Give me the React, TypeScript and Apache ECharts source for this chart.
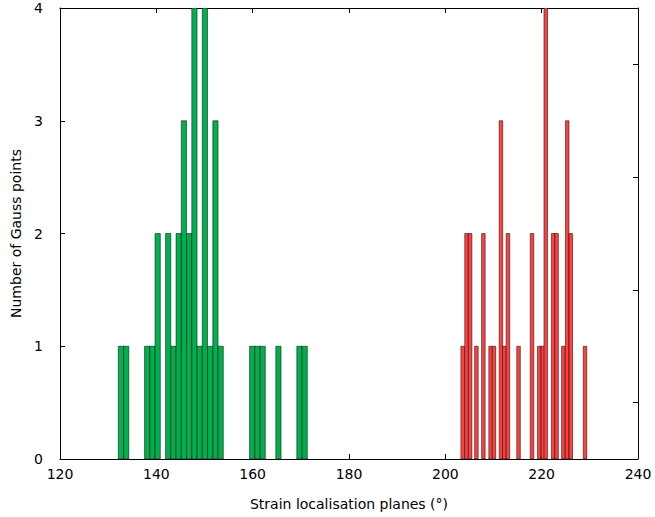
import React, { useEffect, useRef } from "react";
import * as echarts from "echarts";

// Green histogram (bar centre in degrees, count)
const greenCentres = [132.65, 133.74, 138.1, 139.19, 140.28, 142.46, 143.55, 144.64, 145.73, 146.82, 147.91, 149.0, 150.09, 151.18, 152.27, 153.36, 159.9, 160.99, 162.08, 165.35, 169.71, 170.8];
const greenCounts = [1, 1, 1, 1, 2, 2, 1, 2, 3, 2, 4, 1, 4, 1, 3, 1, 1, 1, 1, 1, 1, 1];

// Red histogram (bar centre in degrees, count)
const redCentres = [203.6, 204.4, 205.15, 206.45, 207.9, 209.4, 210.1, 211.55, 212.25, 213.0, 215.2, 218.0, 219.5, 220.25, 220.85, 222.4, 223.1, 224.5, 225.3, 226.05, 229.0];
const redCounts = [1, 2, 2, 1, 2, 1, 1, 3, 1, 2, 1, 2, 1, 1, 4, 2, 2, 1, 3, 2, 1];

const xTicks = [120, 140, 160, 180, 200, 220, 240];
const yTicks = [0, 1, 2, 3, 4];
const rightTicks = [0.5, 1.5, 2.5, 3.5];

const FONT = "DejaVu Sans";

function makeSeries(name: string, centres: number[], counts: number[], width: number, fill: string) {
  return {
    name,
    type: "custom",
    xAxisIndex: 0,
    yAxisIndex: 0,
    clip: true,
    data: centres.map((c, i) => [c, counts[i]]),
    renderItem: (params: any, api: any) => {
      const c = api.value(0);
      const h = api.value(1);
      const p0 = api.coord([c - width / 2, h]);
      const p1 = api.coord([c + width / 2, 0]);
      return {
        type: "rect",
        shape: { x: p0[0], y: p0[1], width: p1[0] - p0[0], height: p1[1] - p0[1] },
        style: { fill, stroke: "rgba(0,0,0,0.5)", lineWidth: 1 },
      };
    },
  };
}

export default function App() {
  const ref = useRef<HTMLDivElement>(null);
  useEffect(() => {
    if (!ref.current) return;
    const chart = echarts.init(ref.current, undefined, { renderer: "svg" });
    const axisLine = { show: true, onZero: false, lineStyle: { color: "#000", width: 1 } };
    chart.setOption({
      animation: false,
      backgroundColor: "#fff",
      grid: { left: 60, top: 8, width: 578, height: 451, containLabel: false },
      xAxis: [
        {
          type: "value",
          position: "bottom",
          min: xTicks[0],
          max: xTicks[xTicks.length - 1],
          interval: 20,
          axisLine,
          axisTick: { show: true, inside: true, length: 5, lineStyle: { color: "#000" } },
          axisLabel: { color: "#000", fontFamily: FONT, fontSize: 14, margin: 8 },
          splitLine: { show: false },
          name: "Strain localisation planes (°)",
          nameLocation: "middle",
          nameGap: 38,
          nameTextStyle: { color: "#000", fontFamily: FONT, fontSize: 14 },
        },
        {
          type: "value",
          position: "top",
          min: xTicks[0],
          max: xTicks[xTicks.length - 1],
          interval: 20,
          axisLine,
          axisTick: { show: true, inside: true, length: 5, lineStyle: { color: "#000" } },
          axisLabel: { show: false },
          splitLine: { show: false },
        },
      ],
      yAxis: [
        {
          type: "value",
          position: "left",
          min: yTicks[0],
          max: yTicks[yTicks.length - 1],
          interval: 1,
          axisLine,
          axisTick: { show: true, inside: true, length: 5, lineStyle: { color: "#000" } },
          axisLabel: { color: "#000", fontFamily: FONT, fontSize: 14, margin: 17 },
          splitLine: { show: false },
          name: "Number of Gauss points",
          nameLocation: "middle",
          nameGap: 36,
          nameRotate: 90,
          nameTextStyle: { color: "#000", fontFamily: FONT, fontSize: 14 },
        },
        {
          type: "value",
          position: "right",
          min: 0,
          max: 4,
          interval: 0.5,
          axisLine,
          axisTick: { show: true, inside: true, length: 5, customValues: rightTicks, lineStyle: { color: "#000" } },
          axisLabel: { show: false },
          splitLine: { show: false },
        },
      ],
      series: [
        makeSeries("green", greenCentres, greenCounts, 1.09, "#00b04f"),
        makeSeries("red", redCentres, redCounts, 0.74, "#ff4040"),
      ],
    });
    return () => chart.dispose();
  }, []);
  return (
    <div
      ref={ref}
      style={{ position: "absolute", left: 0, top: 0, width: 655, height: 517 }}
    />
  );
}
